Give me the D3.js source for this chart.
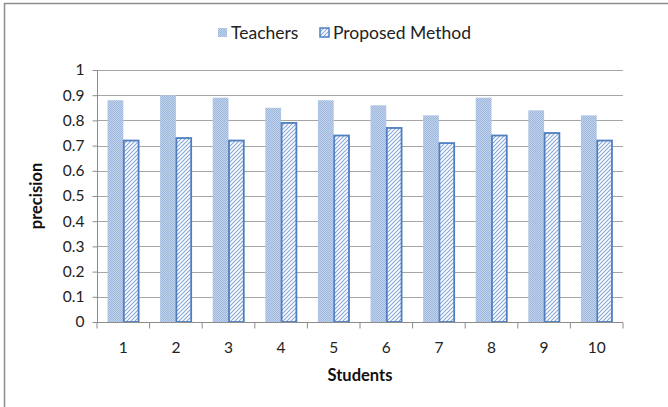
<!DOCTYPE html>
<html><head><meta charset="utf-8">
<script src="https://cdn.jsdelivr.net/npm/d3@7"></script>
<style>body{margin:0;background:#fff}svg{display:block}text{font-family:Lato,"Open Sans",sans-serif}</style>
</head><body><svg id="c" width="668" height="407"></svg>
<script>
const categories = ["1","2","3","4","5","6","7","8","9","10"];
const teachers = [0.88,0.90,0.89,0.85,0.88,0.86,0.82,0.89,0.84,0.82];
const proposed = [0.72,0.73,0.72,0.79,0.74,0.77,0.71,0.74,0.75,0.72];
const seriesNames = ["Teachers","Proposed Method"];
const yTicks = [0,0.1,0.2,0.3,0.4,0.5,0.6,0.7,0.8,0.9,1];

(function(){
const svg = d3.select("#c");
const defs = svg.append("defs");
const pc = defs.append("pattern").attr("id","check").attr("patternUnits","userSpaceOnUse").attr("width",2).attr("height",2);
pc.append("rect").attr("width",2).attr("height",2).attr("fill","#bfd1eb");
pc.append("rect").attr("width",1).attr("height",1).attr("fill","#9fb8de");
pc.append("rect").attr("x",1).attr("y",1).attr("width",1).attr("height",1).attr("fill","#9fb8de");
const ph = defs.append("pattern").attr("id","hatch").attr("patternUnits","userSpaceOnUse").attr("width",4).attr("height",4);
ph.append("rect").attr("width",4).attr("height",4).attr("fill","#fff");
ph.append("path").attr("d","M-1,1 l2,-2 M0,4 l4,-4 M3,5 l2,-2").attr("stroke","#88a6d6").attr("stroke-width",1.1);

// outer border
svg.append("rect").attr("x",4.5).attr("y",3.5).attr("width",700).attr("height",420).attr("fill","none").attr("stroke","#8c8c8c").attr("stroke-width",1.5);

const pLeft=97, pRight=623, pTop=70, pBottom=322;
const x = d3.scaleBand().domain(categories).range([pLeft,pRight]).paddingInner(0).paddingOuter(0);
const y = d3.scaleLinear().domain([0,1]).range([pBottom,pTop]);
const bw = x.bandwidth()*0.30;

// gridlines
svg.append("g").selectAll("line").data(yTicks.filter(d=>d>0)).join("line")
  .attr("x1",pLeft).attr("x2",pRight).attr("y1",d=>Math.round(y(d))+0.5).attr("y2",d=>Math.round(y(d))+0.5)
  .attr("stroke","#a6a6a6").attr("stroke-width",1.2);

// bars
svg.append("g").selectAll("rect").data(categories).join("rect")
  .attr("x",(d)=>x(d)+x.bandwidth()/2-bw).attr("width",bw)
  .attr("y",(d,i)=>y(teachers[i])).attr("height",(d,i)=>pBottom-y(teachers[i]))
  .attr("fill","url(#check)");
svg.append("g").selectAll("rect").data(categories).join("rect")
  .attr("x",(d)=>x(d)+x.bandwidth()/2+0.5).attr("width",bw-1)
  .attr("y",(d,i)=>y(proposed[i])).attr("height",(d,i)=>pBottom-y(proposed[i]))
  .attr("fill","url(#hatch)").attr("stroke","#4f7fc0").attr("stroke-width",1.8);

// y axis
const yAxis = d3.axisLeft(y).tickValues(yTicks).tickSize(5).tickPadding(8).tickFormat(d=>String(d));
const ga = svg.append("g").attr("transform",`translate(${pLeft+0.5},0)`).call(yAxis);
ga.select(".domain").attr("stroke","#8c8c8c").attr("d",`M0,${pTop}V${pBottom}`);
ga.selectAll(".tick line").attr("stroke","#8c8c8c");
ga.selectAll("text").attr("font-size",15.5).attr("fill","#222");

// x axis
const gx = svg.append("g").attr("transform",`translate(0,${pBottom+0.5})`);
gx.append("line").attr("x1",pLeft).attr("x2",pRight).attr("stroke","#8c8c8c").attr("stroke-width",1.2);
const bounds = categories.map(d=>x(d)).concat([pRight]);
gx.selectAll("line.t").data(bounds).join("line").attr("class","t")
  .attr("x1",d=>d).attr("x2",d=>d).attr("y1",0).attr("y2",6).attr("stroke","#8c8c8c");
gx.selectAll("text").data(categories).join("text")
  .attr("x",d=>x(d)+x.bandwidth()/2).attr("y",30).attr("text-anchor","middle")
  .attr("font-size",15.5).attr("fill","#222").text(d=>d);

// axis titles
svg.append("text").attr("x",(pLeft+pRight)/2).attr("y",381).attr("text-anchor","middle")
  .attr("font-size",16.5).attr("font-weight","bold").attr("fill","#111").text("Students");
svg.append("text").attr("transform","translate(42,196) rotate(-90)").attr("text-anchor","middle")
  .attr("font-size",16.5).attr("font-weight","bold").attr("fill","#111").text("precision");

// legend
const lg = svg.append("g");
const lx = [218,320];
lg.selectAll("rect").data(seriesNames).join("rect")
  .attr("x",(d,i)=>lx[i]).attr("y",28).attr("width",9).attr("height",9)
  .attr("fill",(d,i)=>i?"url(#hatch)":"url(#check)")
  .attr("stroke",(d,i)=>i?"#4f7fc0":"none").attr("stroke-width",1.5);
lg.selectAll("text").data(seriesNames).join("text")
  .attr("x",(d,i)=>lx[i]+13).attr("y",38.5).attr("font-size",17.5).attr("fill","#222").text(d=>d);
})();
</script></body></html>
